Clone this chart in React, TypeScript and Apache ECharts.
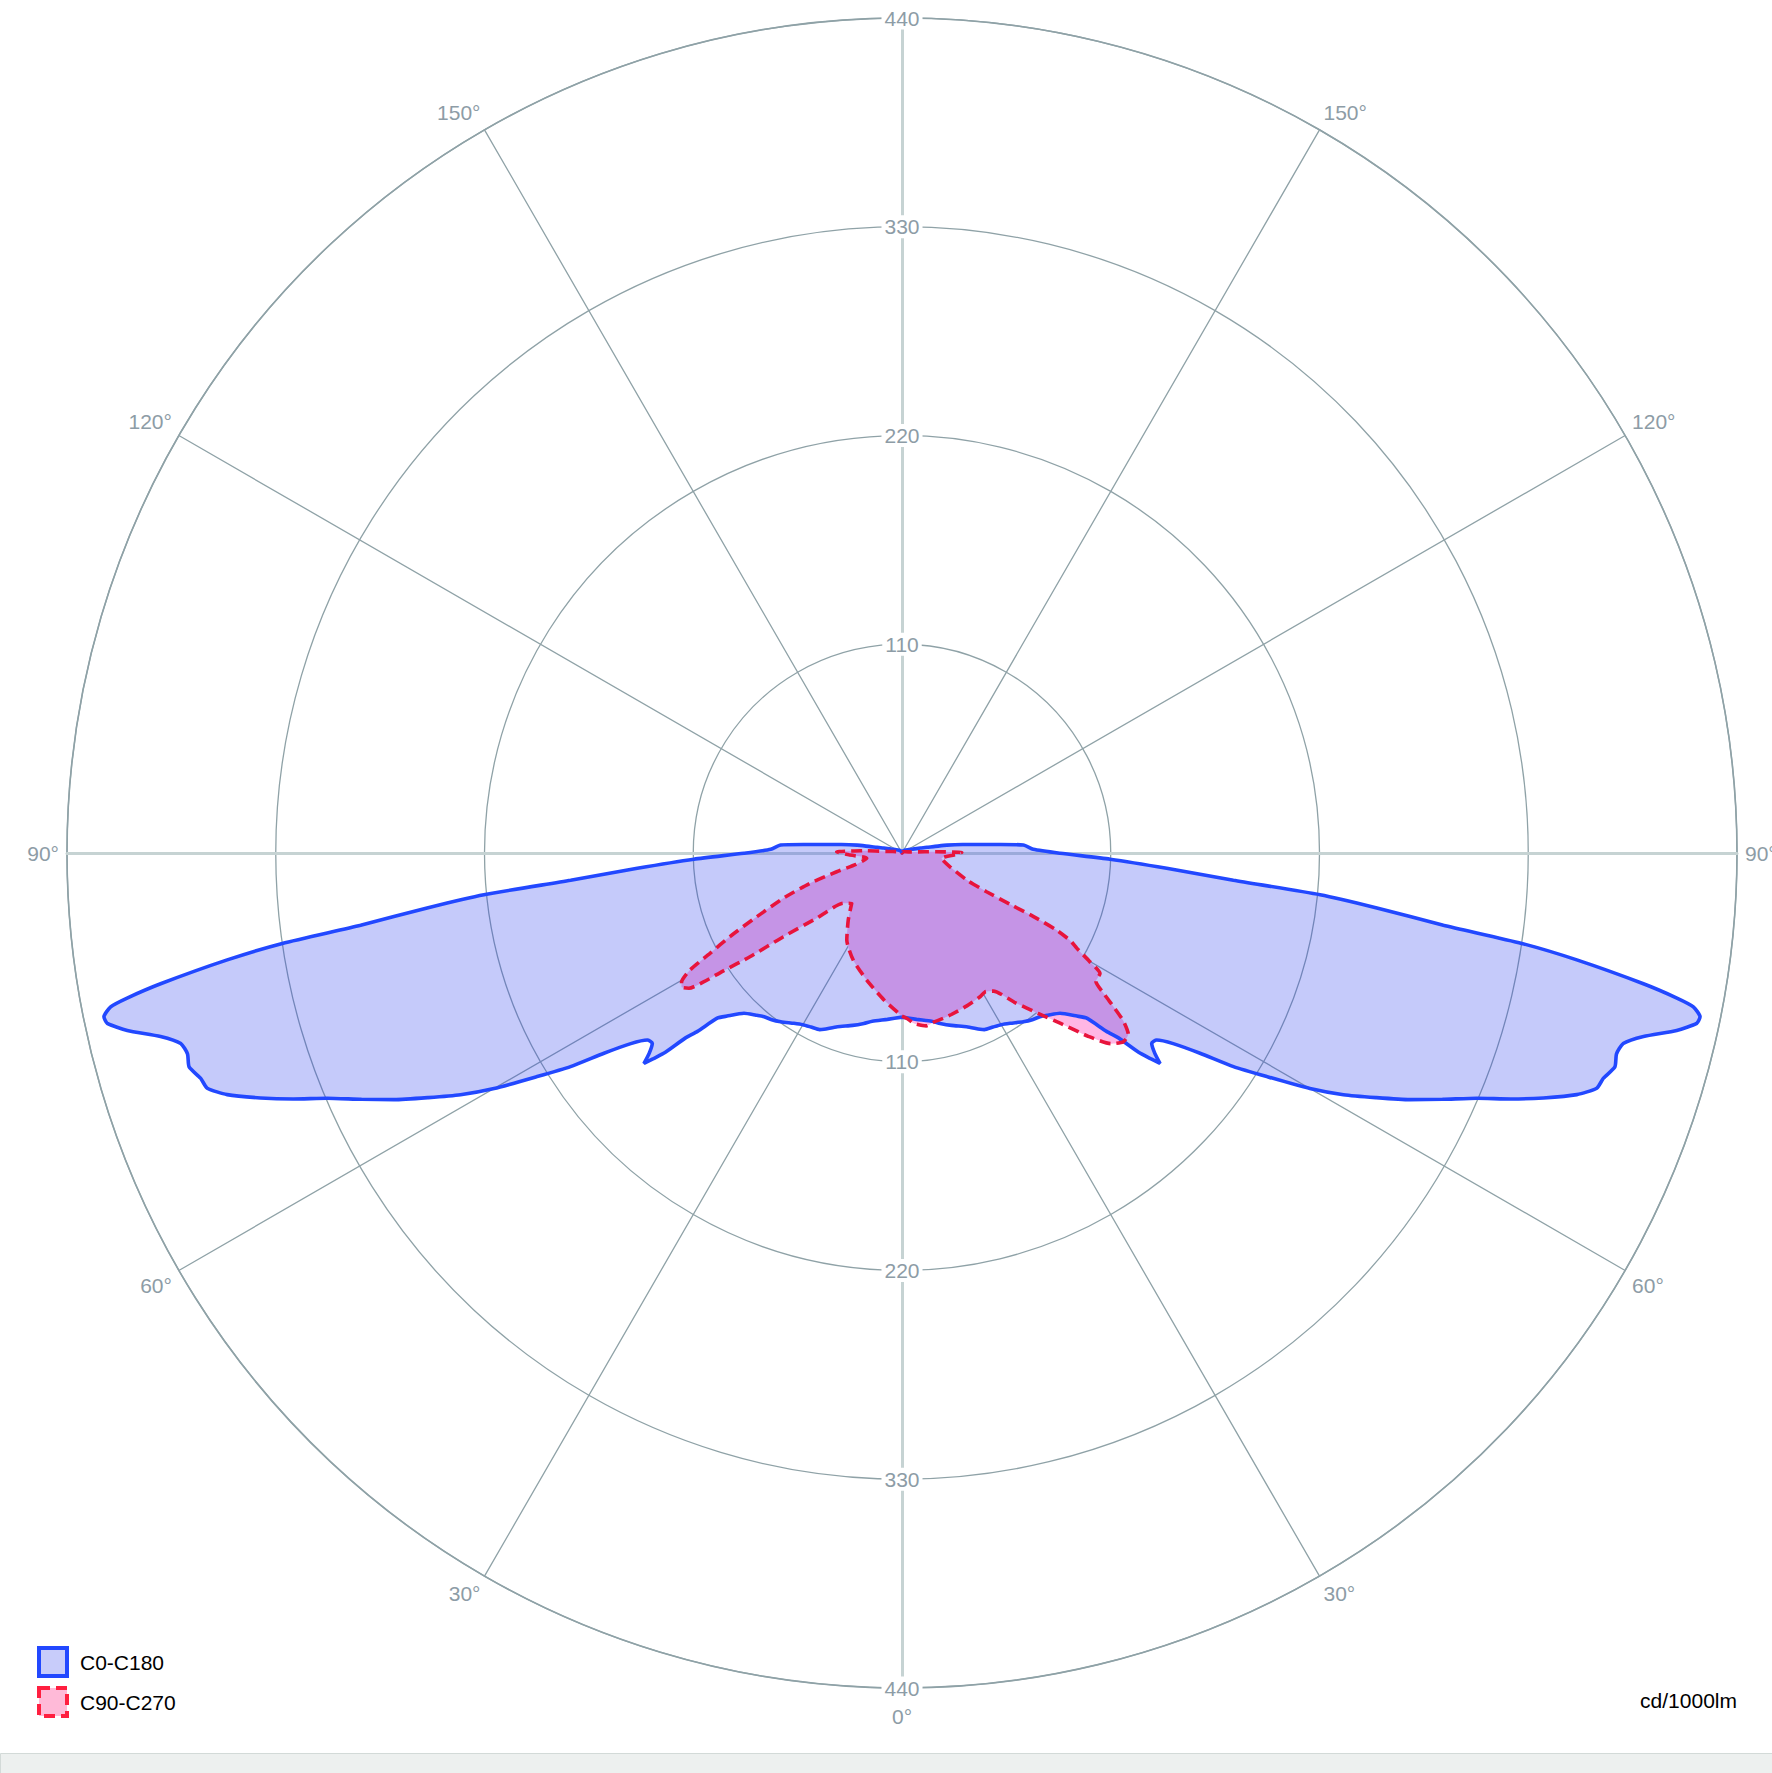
import React, { useEffect, useRef } from 'react';
import * as echarts from 'echarts';

// ---- Axis setup ----
const RADIUS_MAX = 440;
const RADIUS_STEP = 110;
const ANGLE_STEP = 30;
const UNIT_LABEL = 'cd/1000lm';

// ---- C0-C180 plane (symmetric), gamma in degrees from nadir, intensity in cd/1000lm ----
const gammaC0C180 = [0, 5, 10, 12.6, 16, 20.4, 23.9, 25, 27.6, 30, 32.4, 35.7, 38, 40.1, 42, 44.6, 47, 48.2, 48.9, 49.5, 49.9, 50.4, 50.8, 51.6, 52.7, 53.7, 54.9, 56.1, 57.2, 58.5, 60, 61.3, 62.7, 64.1, 65.5, 66.9, 68, 69.1, 70.3, 71.3, 72.2, 73.3, 74.3, 75.2, 76.1, 77.1, 77.9, 78.4, 79, 79.4, 80, 81, 81.7, 82.4, 83.4, 84.3, 85.3, 86.7, 88.3, 89.9, 91.6, 93.8, 95, 96, 98, 100, 101.4, 103, 105, 110, 120, 135, 150, 180];
const intensityC0 = [86.5, 88, 90, 92, 94.5, 97.7, 101.6, 102.7, 103.5, 104.5, 106.3, 109.5, 111.5, 112.8, 115, 118.6, 126, 130.6, 143, 150, 163, 170, 175.5, 170, 165.4, 166.5, 174.7, 189.2, 207.8, 225.5, 248.2, 265.2, 281, 297.5, 313, 329.3, 346, 361.8, 377.7, 386.5, 388.2, 392.2, 391.1, 393.1, 402.5, 418.8, 428.3, 429.3, 424.8, 415.4, 396.7, 360, 330, 287.8, 251.9, 221.4, 175.2, 139.7, 109.7, 83.3, 69.2, 64.1, 51.4, 42.9, 32.2, 24, 17, 13.5, 10, 6, 3.5, 2, 1.2, 0];
const intensityC180 = [86.5, 88, 90, 92, 94.5, 97.7, 101.6, 102.7, 103.5, 104.5, 106.3, 109.5, 111.5, 112.8, 115, 118.6, 126, 130.6, 143, 150, 163, 170, 175.5, 170, 165.4, 166.5, 174.7, 189.2, 207.8, 225.5, 248.2, 265.2, 281, 297.5, 313, 329.3, 346, 361.8, 377.7, 386.5, 388.2, 392.2, 391.1, 393.1, 402.5, 418.8, 428.3, 429.3, 424.8, 415.4, 396.7, 360, 330, 287.8, 251.9, 221.4, 175.2, 139.7, 109.7, 83.3, 69.2, 64.1, 51.4, 42.9, 32.2, 24, 17, 13.5, 10, 6, 3.5, 2, 1.2, 0];

// ---- C90 plane (right half) ----
const gammaC90 = [0, 2, 4, 8, 11, 14, 17, 23, 28.5, 31.2, 33.5, 37, 40.3, 43, 45.5, 47.6, 49.5, 51.3, 52.8, 54, 55, 56.5, 58.7, 60, 61.4, 62.5, 63.5, 64.2, 64.6, 65.4, 67.2, 74, 82.4, 89, 90.5, 92, 93, 96, 110, 140, 180];
const intensityC90 = [86, 87.5, 90, 92, 90.5, 89.8, 89, 87.5, 86.2, 85.3, 87.3, 98.5, 110.8, 123, 138, 149, 153.3, 152.8, 146.5, 137.7, 130.5, 122.5, 122.1, 114, 105, 100, 91, 77, 63, 49, 37.5, 26.3, 21, 30, 31.5, 18, 12, 5, 2, 0.8, 0];

// ---- C270 plane (left half) ----
const gammaC270 = [0, 7, 15.5, 24.5, 32.4, 38.7, 45, 49.4, 52.6, 54.8, 55.7, 56.6, 57, 57.6, 58.7, 59.7, 61.1, 62.4, 64.1, 66.3, 69.1, 71.8, 74, 76, 81.5, 88, 91, 92.5, 93.7, 96, 110, 140, 180];
const intensityC270 = [86, 78, 69.5, 62, 54.3, 45.3, 37.5, 40.7, 56.6, 76.5, 97, 113, 125, 133, 136, 134.5, 127.6, 114.2, 100.8, 83.6, 67, 51, 35.8, 25, 18.8, 28, 34.4, 25, 18.7, 8, 2, 0.8, 0];

const SERIES_NAMES = ['C0-C180', 'C90-C270'];

const FONT = '"Liberation Sans", Arial, sans-serif';
const GRID = '#8fa2a7';
const AXIS_LIGHT = '#c6d3d3';
const LABEL = '#8d9ca6';
const BLUE = '#2248ff';
const RED = '#e8143c';

function buildLoop(gRight: number[], vRight: number[], gLeft: number[], vLeft: number[]) {
  const pts: number[][] = [];
  for (let i = 0; i < gRight.length; i++) pts.push([vRight[i], gRight[i]]);
  for (let i = gLeft.length - 1; i >= 0; i--) pts.push([vLeft[i], 360 - gLeft[i]]);
  return pts;
}

export default function App() {
  const ref = useRef<HTMLDivElement>(null);
  useEffect(() => {
    document.body.style.margin = '0';
    const el = ref.current!;
    const chart = echarts.init(el, null, { renderer: 'svg' });
    const cx = 902;
    const cy = 853;
    const R = 835;

    const hiddenAngle = (idx: number, start: number) => ({
      polarIndex: idx, type: 'value', min: 0, max: 360, interval: ANGLE_STEP, startAngle: start, clockwise: false, show: false,
    });
    const radiusBase = {
      type: 'value', min: 0, max: RADIUS_MAX, interval: RADIUS_STEP, axisTick: { show: false }, splitLine: { show: false },
    };
    const radiusLabel = {
      show: true, showMinLabel: false, margin: 0, align: 'center', verticalAlign: 'middle',
      color: LABEL, fontSize: 21, fontFamily: FONT, backgroundColor: '#ffffff', padding: [1, 3],
    };

    const blueData = buildLoop(gammaC0C180, intensityC0, gammaC0C180, intensityC180);
    const redData = buildLoop(gammaC90, intensityC90, gammaC270, intensityC270);
    const SMOOTH = 0.2;

    const option: any = {
      animation: false,
      backgroundColor: '#ffffff',
      polar: [0, 1, 2, 3, 4].map(() => ({ center: [cx, cy], radius: R })),
      angleAxis: [
        {
          polarIndex: 0, type: 'value', min: 0, max: 360, interval: ANGLE_STEP, startAngle: 270, clockwise: false, z: 0,
          axisLine: { show: true, lineStyle: { color: GRID, width: 1.6 } },
          axisTick: { show: false },
          axisLabel: {
            show: true, margin: 8, color: LABEL, fontSize: 21, fontFamily: FONT,
            formatter: (v: number) => {
              if (v === 180 || v === 360) return '';
              const g = v <= 180 ? v : 360 - v;
              return v === 0 ? `{low|${g}°}` : `${g}°`;
            },
            rich: { low: { padding: [10, 0, 0, 0], color: LABEL, fontSize: 21, fontFamily: FONT } },
          },
          splitLine: { show: true, lineStyle: { color: GRID, width: 1.3 } },
        },
        hiddenAngle(1, 270),
        hiddenAngle(2, 90),
        hiddenAngle(3, 0),
        hiddenAngle(4, 180),
      ],
      radiusAxis: [
        { polarIndex: 0, ...radiusBase, z: 1, axisLine: { show: false }, axisLabel: { show: false }, splitLine: { show: true, lineStyle: { color: GRID, width: 1.3 } } },
        { polarIndex: 1, ...radiusBase, z: 1, axisLine: { show: true, lineStyle: { color: AXIS_LIGHT, width: 3 } }, axisLabel: radiusLabel },
        { polarIndex: 2, ...radiusBase, z: 1, axisLine: { show: true, lineStyle: { color: AXIS_LIGHT, width: 3 } }, axisLabel: radiusLabel },
        { polarIndex: 3, ...radiusBase, z: 1, axisLine: { show: true, lineStyle: { color: AXIS_LIGHT, width: 3 } }, axisLabel: { show: false } },
        { polarIndex: 4, ...radiusBase, z: 1, axisLine: { show: true, lineStyle: { color: AXIS_LIGHT, width: 3 } }, axisLabel: { show: false } },
      ],
      legend: {
        orient: 'vertical', left: 37, top: 1646, padding: 0, itemWidth: 28, itemHeight: 28, itemGap: 8, selectedMode: false,
        textStyle: { fontSize: 21, color: '#000000', fontFamily: FONT, padding: [0, 0, 0, 8] },
        data: [
          { name: SERIES_NAMES[0], icon: 'rect', itemStyle: { color: '#c8ccfa', borderColor: BLUE, borderWidth: 4 } },
          { name: SERIES_NAMES[1], icon: 'rect', itemStyle: { color: '#ffbad8', borderColor: '#ff1f40', borderWidth: 4, borderType: [11, 6] } },
        ],
      },
      graphic: [
        { type: 'rect', left: 0, top: 1753, shape: { width: 1772, height: 20 }, style: { fill: '#edf0ef', stroke: '#d3dad8', lineWidth: 1 }, z: 0 },
        { type: 'text', right: 35, top: 1690, style: { text: UNIT_LABEL, fill: '#000000', fontSize: 21, fontFamily: FONT }, z: 5 },
      ],
      series: [
        {
          name: SERIES_NAMES[1], type: 'line', coordinateSystem: 'polar', polarIndex: 0, z: 2,
          data: redData, showSymbol: false, symbol: 'none', smooth: SMOOTH, clip: false,
          lineStyle: { width: 0, opacity: 0 },
          itemStyle: { color: RED },
          areaStyle: { color: '#ffb6e4', opacity: 1 },
        },
        {
          name: SERIES_NAMES[0], type: 'line', coordinateSystem: 'polar', polarIndex: 0, z: 3,
          data: blueData, showSymbol: false, symbol: 'none', smooth: SMOOTH, clip: false,
          lineStyle: { color: BLUE, width: 3.6 },
          itemStyle: { color: BLUE },
          areaStyle: { color: 'rgba(40,60,238,0.27)', opacity: 1 },
        },
        {
          name: SERIES_NAMES[1], type: 'line', coordinateSystem: 'polar', polarIndex: 0, z: 4,
          data: redData, showSymbol: false, symbol: 'none', smooth: SMOOTH, clip: false,
          lineStyle: { color: RED, width: 3.6, type: [11, 6] },
          itemStyle: { color: RED },
        },
      ],
    };
    chart.setOption(option);
    return () => chart.dispose();
  }, []);
  return <div ref={ref} style={{ width: 1772, height: 1773 }} />;
}
